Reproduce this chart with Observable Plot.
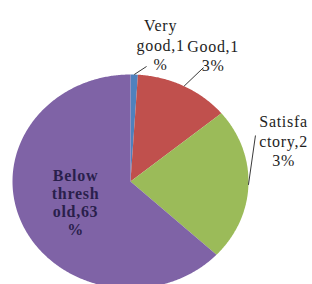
<!DOCTYPE html>
<html><head><meta charset="utf-8">
<script src="https://cdn.jsdelivr.net/npm/d3@7"></script>
<script src="https://cdn.jsdelivr.net/npm/@observablehq/plot@0.6"></script>
<style>body{margin:0;background:#fff} svg text{font-family:"Times New Roman","Liberation Serif","DejaVu Serif",serif !important; letter-spacing:0.7px;}</style>
</head><body><div id="chart"></div>
<script>
// ---- data ----
const categories = ["Very good", "Good", "Satisfactory", "Below threshold"];
const values = [1, 13, 23, 63];
const labelTexts = ["Very\ngood,1\n%", "Good,1\n3%", "Satisfa\nctory,2\n3%", "Below\nthresh\nold,63\n%"];
const colors = ["#4F81BD", "#C0504D", "#9BBB59", "#7F63A6"];

// ---- layout (in pie-radius units) ----
const W = 312, H = 284, cx = 130, cy = 181, rx = 118, ry = 107;
const labelPos = [[0.255, 1.28], [0.70, 1.178], [1.297, 0.383], [-0.466, -0.196]];
const leaderEnd = [[0.136, 1.075], [0.619, 1.065], [1.059, 0.43], null];

const arcs = d3.pie().sort(null).value(d => d)(values);
const pts = [];
arcs.forEach((a, i) => {
  const cat = categories[i];
  pts.push({x: 0, y: 0, cat});
  const n = Math.max(2, Math.ceil((a.endAngle - a.startAngle) / 0.01));
  for (let k = 0; k <= n; k++) {
    const t = a.startAngle + (a.endAngle - a.startAngle) * k / n;
    pts.push({x: Math.sin(t), y: Math.cos(t), cat});
  }
  pts.push({x: 0, y: 0, cat});
});

const leaders = [];
arcs.forEach((a, i) => {
  if (!leaderEnd[i]) return;
  const m = (a.startAngle + a.endAngle) / 2;
  leaders.push({x1: Math.sin(m), y1: Math.cos(m), x2: leaderEnd[i][0], y2: leaderEnd[i][1]});
});

const labelData = categories.map((c, i) => ({
  cat: c, text: labelTexts[i], x: labelPos[i][0], y: labelPos[i][1]
}));

const chart = Plot.plot({
  width: W, height: H, margin: 0,
  style: {background: "#fff"},
  x: {domain: [-cx / rx, (W - cx) / rx], range: [0, W], axis: null},
  y: {domain: [(cy - H) / ry, cy / ry], range: [H, 0], axis: null},
  color: {domain: categories, range: colors},
  marks: [
    Plot.line(pts, {x: "x", y: "y", z: "cat", fill: "cat", stroke: null, curve: "linear"}),
    Plot.link(leaders, {x1: "x1", y1: "y1", x2: "x2", y2: "y2", stroke: "#3a3a3a", strokeWidth: 1}),
    Plot.text(labelData.slice(0, 3), {x: "x", y: "y", text: "text", fontFamily: "Times New Roman", fontSize: 16, lineHeight: 1.2, fill: "#1e1e1e", textAnchor: "middle", lineAnchor: "middle"}),
    Plot.text(labelData.slice(3), {x: "x", y: "y", text: "text", fontFamily: "Times New Roman", fontSize: 16, fontWeight: "bold", lineHeight: 1.12, fill: "#2a1f4c", textAnchor: "middle", lineAnchor: "middle"})
  ]
});
document.getElementById("chart").appendChild(chart);
</script>
</body></html>
